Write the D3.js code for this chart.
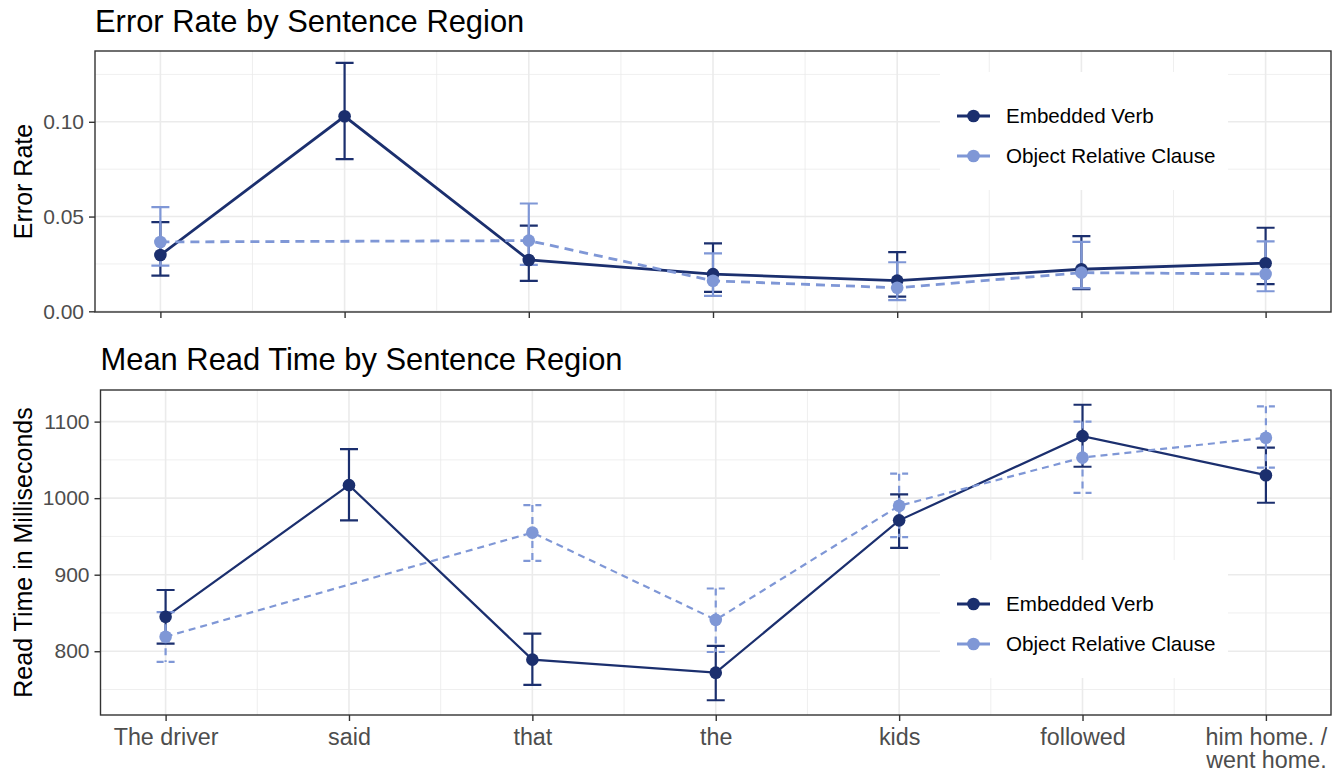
<!DOCTYPE html>
<html>
<head>
<meta charset="utf-8">
<script src="https://cdn.jsdelivr.net/npm/d3@7"></script>
<style>
  body { margin: 0; background: #fff; }
  text { font-family: "Liberation Sans", Arial, Helvetica, sans-serif; }
</style>
</head>
<body>
<svg id="chart" width="1332" height="771"></svg>
<script>
// sentence regions (x categories)
var regions = ["The driver", "said", "that", "the", "kids", "followed", "him home. /\nwent home."];
var seriesNames = ["Embedded Verb", "Object Relative Clause"];

// error rate, mean and error bar limits
var errEV     = [0.0297, 0.1029, 0.0271, 0.0196, 0.0162, 0.0222, 0.0254];
var errEVLo   = [0.0188, 0.0803, 0.0161, 0.0103, 0.0078, 0.0117, 0.0143];
var errEVHi   = [0.0471, 0.1311, 0.0452, 0.0359, 0.0312, 0.0397, 0.0441];
var errORC    = [0.0366, null, 0.0373, 0.0161, 0.0124, 0.0204, 0.0197];
var errORCLo  = [0.0241, null, 0.0245, 0.0082, 0.0059, 0.0122, 0.0106];
var errORCHi  = [0.0550, null, 0.0569, 0.0306, 0.0259, 0.0366, 0.0369];

// mean read time (ms)
var rtEV      = [845, 1017, 789, 772, 971, 1081, 1030];
var rtEVLo    = [810, 971, 756, 736, 935, 1041, 994];
var rtEVHi    = [880, 1064, 823, 807, 1005, 1122, 1066];
var rtORC     = [819, null, 955, 841, 990, 1053, 1079];
var rtORCLo   = [786, null, 918, 799, 949, 1007, 1040];
var rtORCHi   = [851, null, 991, 882, 1032, 1100, 1120];

var errTicks = [0, 0.05, 0.10];
var rtTicks = [800, 900, 1000, 1100];

var colors = ["#1b2f6e", "#7f97d6"];
var svg = d3.select("#chart");

function rows(mean, lo, hi) {
  return regions.map(function(r, i) {
    return { region: r, v: mean[i], lo: lo[i], hi: hi[i] };
  }).filter(function(d) { return d.v != null; });
}

function panel(cfg) {
  var g = svg.append("g");
  var x = d3.scalePoint().domain(regions).range([cfg.left, cfg.right]).padding(0.355);
  var all = [];
  cfg.series.forEach(function(s) { s.data.forEach(function(d) { all.push(d.lo, d.hi); }); });
  var lo = d3.min(all), hi = d3.max(all), pad = (hi - lo) * 0.05;
  var y = d3.scaleLinear().domain([lo - pad, hi + pad]).range([cfg.bottom, cfg.top]);

  // grid
  var minorY = [];
  for (var i = 0; i < cfg.ticks.length + 1; i++) {
    var step = cfg.ticks[1] - cfg.ticks[0];
    var m = cfg.ticks[0] - step / 2 + i * step;
    if (m > y.domain()[0] && m < y.domain()[1]) minorY.push(m);
  }
  var minorX = [];
  for (var j = 0; j < regions.length - 1; j++) minorX.push((x(regions[j]) + x(regions[j + 1])) / 2);

  g.selectAll(".minh").data(minorY).enter().append("line")
    .attr("x1", cfg.left).attr("x2", cfg.right)
    .attr("y1", function(d) { return y(d); }).attr("y2", function(d) { return y(d); })
    .attr("stroke", "#ebebeb").attr("stroke-width", 0.8);
  g.selectAll(".minv").data(minorX).enter().append("line")
    .attr("y1", cfg.top).attr("y2", cfg.bottom)
    .attr("x1", function(d) { return d; }).attr("x2", function(d) { return d; })
    .attr("stroke", "#ebebeb").attr("stroke-width", 0.8);
  g.selectAll(".majh").data(cfg.ticks).enter().append("line")
    .attr("x1", cfg.left).attr("x2", cfg.right)
    .attr("y1", function(d) { return y(d); }).attr("y2", function(d) { return y(d); })
    .attr("stroke", "#ebebeb").attr("stroke-width", 1.6);
  g.selectAll(".majv").data(regions).enter().append("line")
    .attr("y1", cfg.top).attr("y2", cfg.bottom)
    .attr("x1", function(d) { return x(d); }).attr("x2", function(d) { return x(d); })
    .attr("stroke", "#ebebeb").attr("stroke-width", 1.6);

  // legend background covers grid
  var lg = cfg.legend;
  g.append("rect").attr("x", lg.x).attr("y", lg.y).attr("width", 288).attr("height", 118).attr("fill", "#fff");

  // lines
  var line = d3.line().x(function(d) { return x(d.region); }).y(function(d) { return y(d.v); });
  cfg.series.forEach(function(s, k) {
    g.append("path").datum(s.data).attr("d", line)
      .attr("fill", "none").attr("stroke", colors[k]).attr("stroke-width", cfg.lw)
      .attr("stroke-dasharray", k === 1 ? cfg.dash : null);
  });

  // error bars
  var cap = 9;
  cfg.series.forEach(function(s, k) {
    g.selectAll(null).data(s.data).enter().append("path")
      .attr("d", function(d) {
        var cx = x(d.region), a = y(d.hi), b = y(d.lo);
        return "M" + (cx - cap) + "," + a + "H" + (cx + cap) + "M" + cx + "," + a + "V" + b +
               "M" + (cx - cap) + "," + b + "H" + (cx + cap);
      })
      .attr("fill", "none").attr("stroke", colors[k]).attr("stroke-width", cfg.elw)
      .attr("stroke-dasharray", (k === 1 && cfg.dashBars) ? cfg.dash : null);
  });

  // points
  cfg.series.forEach(function(s, k) {
    g.selectAll(null).data(s.data).enter().append("circle")
      .attr("cx", function(d) { return x(d.region); })
      .attr("cy", function(d) { return y(d.v); })
      .attr("r", 6.3).attr("fill", colors[k]);
  });

  // border
  g.append("rect").attr("x", cfg.left).attr("y", cfg.top)
    .attr("width", cfg.right - cfg.left).attr("height", cfg.bottom - cfg.top)
    .attr("fill", "none").attr("stroke", "#333333").attr("stroke-width", 1.4);

  // y axis
  var ya = g.append("g").attr("transform", "translate(" + cfg.left + ",0)")
    .call(d3.axisLeft(y).tickValues(cfg.ticks).tickFormat(cfg.fmt).tickSize(6).tickPadding(5));
  ya.select(".domain").remove();
  ya.selectAll(".tick line").attr("stroke", "#333333").attr("stroke-width", 1.4);
  ya.selectAll(".tick text").attr("fill", "#4d4d4d").style("font-size", "21px")
    .style("font-family", "'Liberation Sans', Arial, sans-serif");

  // x axis
  var xa = g.append("g").attr("transform", "translate(0," + cfg.bottom + ")")
    .call(d3.axisBottom(x).tickSize(6).tickFormat(""));
  xa.select(".domain").remove();
  xa.selectAll(".tick line").attr("stroke", "#333333").attr("stroke-width", 1.4);
  if (cfg.xlabels) {
    xa.selectAll(".tick text").remove();
    xa.selectAll(".tick").append("text")
      .attr("fill", "#4d4d4d").attr("text-anchor", "middle")
      .style("font-size", "23.3px")
      .selectAll("tspan").data(function(d) { return d.split("\n"); }).enter().append("tspan")
      .attr("x", 0).attr("y", function(d, i) { return 30 + i * 22.5; }).text(function(d) { return d; });
  }

  // titles
  svg.append("text").attr("x", cfg.left).attr("y", cfg.titleY).text(cfg.title)
    .style("font-size", "30.9px").attr("fill", "#000");
  svg.append("text")
    .attr("transform", "translate(32," + ((cfg.top + cfg.bottom) / 2) + ") rotate(-90)")
    .attr("text-anchor", "middle").text(cfg.ytitle)
    .style("font-size", "25px").attr("fill", "#000");

  // legend
  seriesNames.forEach(function(name, k) {
    var ry = lg.y + 44 + k * 40;
    g.append("line").attr("x1", lg.x + 17).attr("x2", lg.x + 50).attr("y1", ry).attr("y2", ry)
      .attr("stroke", colors[k]).attr("stroke-width", 2.8);
    g.append("circle").attr("cx", lg.x + 33.5).attr("cy", ry).attr("r", 6.3).attr("fill", colors[k]);
    g.append("text").attr("x", lg.x + 66).attr("y", ry + 7).text(name)
      .style("font-size", "20.6px").attr("fill", "#000");
  });
}

panel({
  left: 95, right: 1331, top: 51, bottom: 312,
  title: "Error Rate by Sentence Region", titleY: 32, ytitle: "Error Rate",
  ticks: errTicks, fmt: d3.format(".2f"),
  series: [{ data: rows(errEV, errEVLo, errEVHi) }, { data: rows(errORC, errORCLo, errORCHi) }],
  lw: 2.8, elw: 2.2, dash: "9,6", dashBars: false,
  legend: { x: 940, y: 72 }, xlabels: false
});

panel({
  left: 100.5, right: 1331, top: 390, bottom: 715,
  title: "Mean Read Time by Sentence Region", titleY: 370, ytitle: "Read Time in Milliseconds",
  ticks: rtTicks, fmt: d3.format("d"),
  series: [{ data: rows(rtEV, rtEVLo, rtEVHi) }, { data: rows(rtORC, rtORCLo, rtORCHi) }],
  lw: 2.2, elw: 2.2, dash: "7,5", dashBars: true,
  legend: { x: 940, y: 560 }, xlabels: true
});
</script>
</body>
</html>
